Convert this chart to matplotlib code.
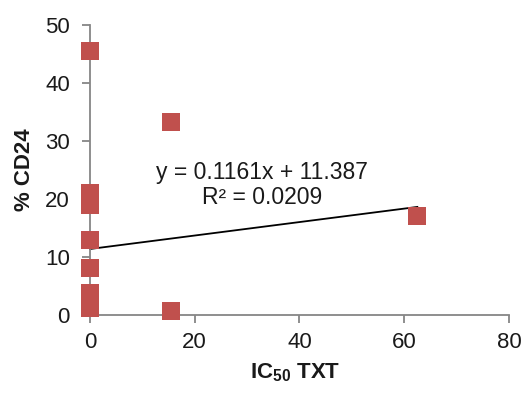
import matplotlib
matplotlib.use("Agg")
import matplotlib.pyplot as plt
import numpy as np

plt.rcParams['font.family'] = ['Liberation Sans', 'DejaVu Sans']
plt.rcParams['mathtext.fontset'] = 'custom'
plt.rcParams['mathtext.rm'] = 'Liberation Sans'
plt.rcParams['mathtext.bf'] = 'Liberation Sans:bold'

# data
ic50 = [0, 15.5, 0, 0, 0, 0, 0, 0, 15.5, 62.5]
cd24 = [45.5, 33.3, 21.0, 19.0, 12.9, 8.1, 3.8, 1.2, 0.7, 17.1]
slope = 0.1161
intercept = 11.387
r2 = 0.0209
xticks = [0, 20, 40, 60, 80]
yticks = [0, 10, 20, 30, 40, 50]

fig = plt.figure(figsize=(5.21, 3.93), dpi=100)
ax = fig.add_axes([0.1727, 0.1985, 0.977 - 0.1727, 0.936 - 0.1985])

red = '#C0504D'
gray = '#868686'
txt = '#1a1a1a'

xl = np.array([0, max(ic50)])
ax.plot(xl, slope * xl + intercept, color='black', lw=1.3, zorder=2, clip_on=False)
ax.plot(ic50, cd24, 's', color=red, markersize=13, markeredgewidth=0, zorder=3, clip_on=False)

ax.set_xlim(0, 80)
ax.set_ylim(0, 50)
ax.set_xticks(xticks)
ax.set_yticks(yticks)
for s in ['top', 'right']:
    ax.spines[s].set_visible(False)
for s in ['left', 'bottom']:
    ax.spines[s].set_color(gray)
    ax.spines[s].set_linewidth(1.3)
ax.tick_params(direction='out', length=5.5, width=1.3, color=gray, labelsize=16, labelcolor=txt)
ax.tick_params(axis='y', pad=9)
ax.tick_params(axis='x', pad=7)

ax.set_xlabel(r'IC$_{\mathbf{50}}$ TXT', fontsize=16, fontweight='bold', color=txt)
ax.set_ylabel('% CD24', fontsize=16, fontweight='bold', color=txt)
ax.xaxis.set_label_coords((295 - 90) / 419, -(373 - 315) / 290)
ax.yaxis.set_label_coords((25 - 90) / 419, (315 - 170) / 290)
ax.xaxis.label.set_va('center')
ax.yaxis.label.set_va('center')

ax.text(32.8, 22.4, f'y = {slope}x + {intercept}\nR² = {r2}', ha='center', va='center',
        fontsize=16.5, color=txt, linespacing=1.1)

fig.savefig('out.png', dpi=100)
